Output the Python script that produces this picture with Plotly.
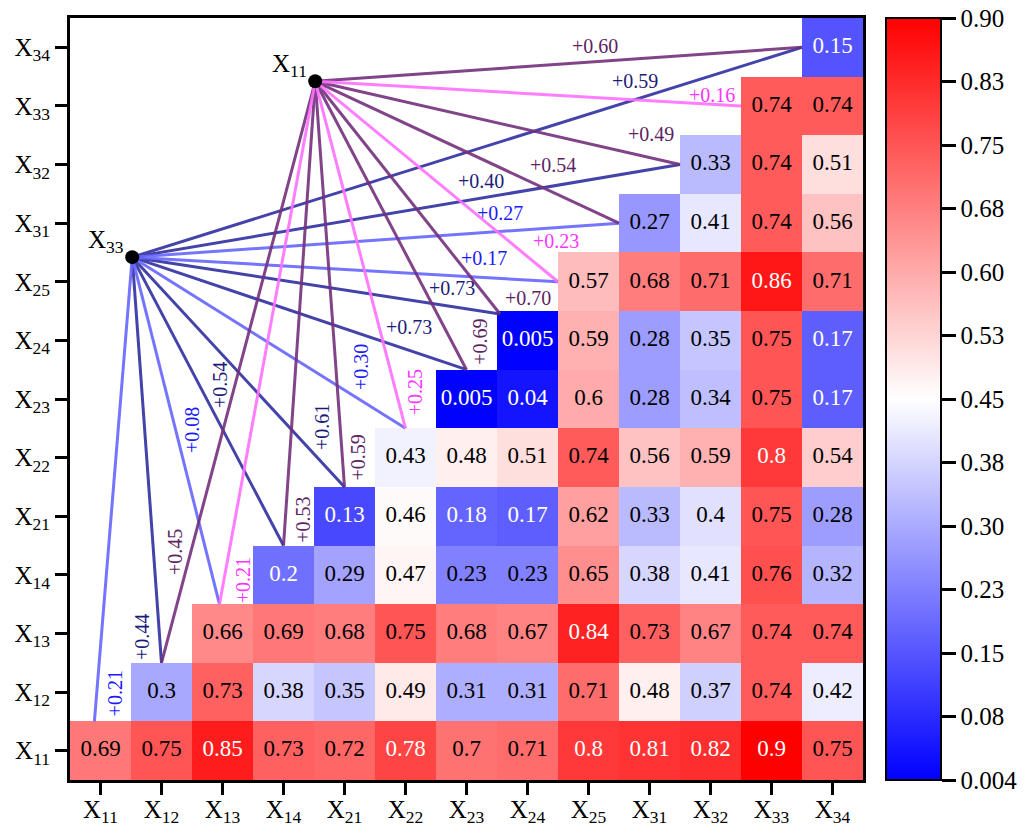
import numpy as np
import plotly.graph_objects as go

# variables (same order on both axes)
names = ['11', '12', '13', '14', '21', '22', '23', '24', '25', '31', '32', '33', '34']
tick_text = ['X<sub>%s</sub>' % n for n in names]

# heatmap rows, each row starts on the diagonal cell
r11 = [0.69, 0.75, 0.85, 0.73, 0.72, 0.78, 0.7, 0.71, 0.8, 0.81, 0.82, 0.9, 0.75]
r12 = [0.3, 0.73, 0.38, 0.35, 0.49, 0.31, 0.31, 0.71, 0.48, 0.37, 0.74, 0.42]
r13 = [0.66, 0.69, 0.68, 0.75, 0.68, 0.67, 0.84, 0.73, 0.67, 0.74, 0.74]
r14 = [0.2, 0.29, 0.47, 0.23, 0.23, 0.65, 0.38, 0.41, 0.76, 0.32]
r21 = [0.13, 0.46, 0.18, 0.17, 0.62, 0.33, 0.4, 0.75, 0.28]
r22 = [0.43, 0.48, 0.51, 0.74, 0.56, 0.59, 0.8, 0.54]
r23 = [0.005, 0.04, 0.6, 0.28, 0.34, 0.75, 0.17]
r24 = [0.005, 0.59, 0.28, 0.35, 0.75, 0.17]
r25 = [0.57, 0.68, 0.71, 0.86, 0.71]
r31 = [0.27, 0.41, 0.74, 0.56]
r32 = [0.33, 0.74, 0.51]
r33 = [0.74, 0.74]
r34 = [0.15]
rows = [r11, r12, r13, r14, r21, r22, r23, r24, r25, r31, r32, r33, r34]

# links from the two hubs to the diagonal cells
x11_targets = [1, 2, 3, 4, 5, 6, 7, 8, 9, 10, 11, 12]
x11_links = [0.45, 0.21, 0.53, 0.59, 0.25, 0.69, 0.70, 0.23, 0.54, 0.49, 0.16, 0.60]
x33_targets = [0, 1, 2, 3, 4, 5, 6, 7, 8, 9, 10, 12]
x33_links = [0.21, 0.44, 0.08, 0.54, 0.61, 0.30, 0.73, 0.73, 0.17, 0.27, 0.40, 0.59]

zmin, zmax = 0.004, 0.9
cbar_vals = list(np.linspace(zmin, zmax - 1e-4, 13))
cbar_text = ['0.004', '0.08', '0.15', '0.23', '0.30', '0.38', '0.45',
             '0.53', '0.60', '0.68', '0.75', '0.83', '0.90']

# ---- positions (layout only) ----
hub11 = (3.52, 11.42)
hub33 = (0.52, 8.42)
# where a link touches its diagonal cell, offset from the cell centre
end_off = {0: (-0.1, 0.5), 1: (0, 0.5), 2: (-0.05, 0.5), 3: (0, 0.5), 4: (0, 0.5),
           5: (0, 0.5), 6: (0, 0.5), 7: (-0.45, 0.45), 8: (-0.5, 0), 9: (-0.5, 0),
           10: (-0.5, 0), 11: (-0.5, 0), 12: (-0.5, 0)}
# label positions (data units) and rotation
lab11 = [(1.22, 3.39, True), (2.34, 2.91, True), (3.32, 3.94, True), (4.22, 5.0, True),
         (5.16, 6.12, True), (6.23, 6.97, True), (7.0, 7.72, False), (7.46, 8.7, False),
         (7.41, 9.99, False), (9.02, 10.52, False), (10.03, 11.18, False), (8.11, 12.03, False)]
lab33 = [(0.24, 0.98, True), (0.68, 1.94, True), (1.5, 5.47, True), (1.96, 6.24, True),
         (3.63, 5.52, True), (4.26, 6.55, True), (5.05, 7.23, False), (5.77, 7.9, False),
         (6.28, 8.4, False), (6.55, 9.18, False), (6.23, 9.72, False), (8.77, 11.42, False)]

serif = 'Liberation Serif'
n = len(names)

z = [[None] * n for _ in range(n)]
for i, row in enumerate(rows):
    for k, v in enumerate(row):
        z[i][i + k] = v

fig = go.Figure()
fig.add_trace(go.Heatmap(
    z=z, x=list(range(n)), y=list(range(n)), zmin=zmin, zmax=zmax,
    colorscale=[[0, 'rgb(0,0,255)'], [0.5, 'rgb(255,255,255)'], [1, 'rgb(255,0,0)']],
    hoverongaps=False,
    colorbar=dict(
        x=1.029, xanchor='left', xpad=0, y=0, yanchor='bottom', len=1, ypad=0,
        thickness=55, outlinewidth=2, outlinecolor='black',
        tickvals=cbar_vals, ticktext=cbar_text, ticks='outside', ticklen=14, tickwidth=2.5,
        tickcolor='black', ticklabeloverflow='allow',
        tickfont=dict(family=serif, size=25, color='black'),
    ),
))

# cell value labels
for col in ['white', 'black']:
    xs, ys, ts = [], [], []
    for i, row in enumerate(rows):
        for k, v in enumerate(row):
            light = v < 0.21 or v >= 0.77
            if (col == 'white') == light:
                xs.append(i + k)
                ys.append(i)
                ts.append(str(v))
    fig.add_trace(go.Scatter(x=xs, y=ys, text=ts, mode='text', hoverinfo='skip',
                             textfont=dict(family=serif, size=23, color=col), showlegend=False))


def add_links(hub, targets, links, labels, hi_line, lo_line, hi_txt, lo_txt):
    groups = {True: ([], []), False: ([], [])}
    for t, v, (lx, ly, rot) in zip(targets, links, labels):
        dx, dy = end_off[t]
        gx, gy = groups[v >= 0.35]
        gx += [hub[0], t + dx, None]
        gy += [hub[1], t + dy, None]
        fig.add_annotation(x=lx, y=ly, text='+%.2f' % v, showarrow=False,
                           textangle=-90 if rot else 0,
                           font=dict(family=serif, size=20, color=hi_txt if v >= 0.35 else lo_txt))
    for hi, (gx, gy) in groups.items():
        fig.add_trace(go.Scatter(x=gx, y=gy, mode='lines', hoverinfo='skip', showlegend=False,
                                 line=dict(color=hi_line if hi else lo_line, width=3), opacity=0.9))


add_links(hub33, x33_targets, x33_links, lab33, '#2f2fa0', '#6666ff', '#1c1c78', '#1a1aff')
add_links(hub11, x11_targets, x11_links, lab11, '#74307c', '#ff70ff', '#5e2463', '#ff33ff')

fig.add_trace(go.Scatter(x=[hub11[0], hub33[0]], y=[hub11[1], hub33[1]], mode='markers',
                         marker=dict(color='black', size=14), hoverinfo='skip', showlegend=False))
for hub, lab in [(hub11, tick_text[0]), (hub33, tick_text[11])]:
    fig.add_annotation(x=hub[0], y=hub[1], text=lab, showarrow=False, xanchor='right',
                       yanchor='bottom', xshift=-6, yshift=-2,
                       font=dict(family=serif, size=25, color='black'))

axis = dict(tickvals=list(range(n)), ticktext=tick_text, range=[-0.5, n - 0.5],
            showline=True, linewidth=3, linecolor='black', mirror=True, showgrid=False,
            zeroline=False, ticks='outside', ticklen=12, tickwidth=3, tickcolor='black',
            tickfont=dict(family=serif, size=25, color='black'), automargin=False)
fig.update_xaxes(**axis, ticklabelstandoff=-7)
fig.update_yaxes(**axis)
# the page adds an 8px body margin, so the figure is 16px smaller than the window
fig.update_layout(width=1010, height=822,
                  margin=dict(l=62, r=155, t=10, b=50, autoexpand=False),
                  plot_bgcolor='white', paper_bgcolor='white', showlegend=False)

fig.write_html("out.html")
